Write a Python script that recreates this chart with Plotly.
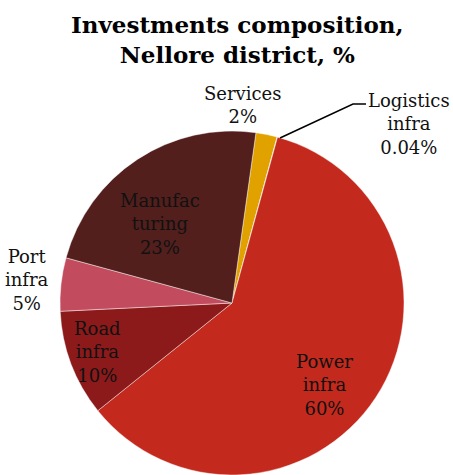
import plotly.graph_objects as go

# Investment shares by sector, Nellore district (%)
sectors = ["Services", "Logistics infra", "Power infra", "Road infra", "Port infra", "Manufacturing"]
shares = [2, 0.04, 60, 10, 5, 23]
label_lines = [["Services"], ["Logistics", "infra"], ["Power", "infra"],
               ["Road", "infra"], ["Port", "infra"], ["Manufac", "turing"]]
colors = ["#E1A200", "#D8D0C8", "#C4291D", "#8C1A1B", "#C24B5E", "#521F1D"]
title_text = "Investments composition,<br>Nellore district, %"

W, H = 453, 475
ML, MR, MT, MB = 60, 49, 131, 0
PW, PH = W - ML - MR, H - MT - MB


def px_to_paper(x, y):
    return (x - ML) / PW, (H - MB - y) / PH


def fmt(v):
    return f"{v:g}%"


fig = go.Figure(
    go.Pie(
        labels=sectors,
        values=shares,
        sort=False,
        direction="clockwise",
        rotation=8,
        marker=dict(colors=colors, line=dict(color="rgba(255,255,255,0.55)", width=0.8)),
        textinfo="none",
        hoverinfo="label+percent",
        showlegend=False,
    )
)

# label anchor points (pixel centre of each text block)
label_pos = {
    "Services": (243, 105),
    "Logistics infra": (409, 124),
    "Power infra": (324, 385),
    "Road infra": (97, 352),
    "Port infra": (27, 280),
    "Manufacturing": (160, 224),
}

font = dict(family="DejaVu Serif", size=18, color="#111111")
annotations = []
for name, lines, v in zip(sectors, label_lines, shares):
    x, y = px_to_paper(*label_pos[name])
    annotations.append(dict(
        x=x, y=y, xref="paper", yref="paper",
        text="<br>".join(lines + [fmt(v)]),
        showarrow=False, xanchor="center", yanchor="middle",
        align="center", font=font,
    ))

# chart title, drawn as a centred two-line annotation
tx, ty = px_to_paper(237, 40)
annotations.append(dict(
    x=tx, y=ty, xref="paper", yref="paper",
    text=f"<b>{title_text}</b>",
    showarrow=False, xanchor="center", yanchor="middle", align="center",
    font=dict(family="DejaVu Serif", size=23, color="#000000"),
))

# leader line for the thin logistics slice
p0 = px_to_paper(280, 138)
p1 = px_to_paper(353, 104)
p2 = px_to_paper(366, 104)
fig.add_shape(
    type="path", xref="paper", yref="paper",
    path=f"M {p0[0]},{p0[1]} L {p1[0]},{p1[1]} L {p2[0]},{p2[1]}",
    line=dict(color="#000000", width=1.5),
)

fig.update_layout(
    width=W, height=H,
    margin=dict(l=ML, r=MR, t=MT, b=MB),
    paper_bgcolor="white",
    plot_bgcolor="white",
    annotations=annotations,
)

fig.write_html("out.html")
